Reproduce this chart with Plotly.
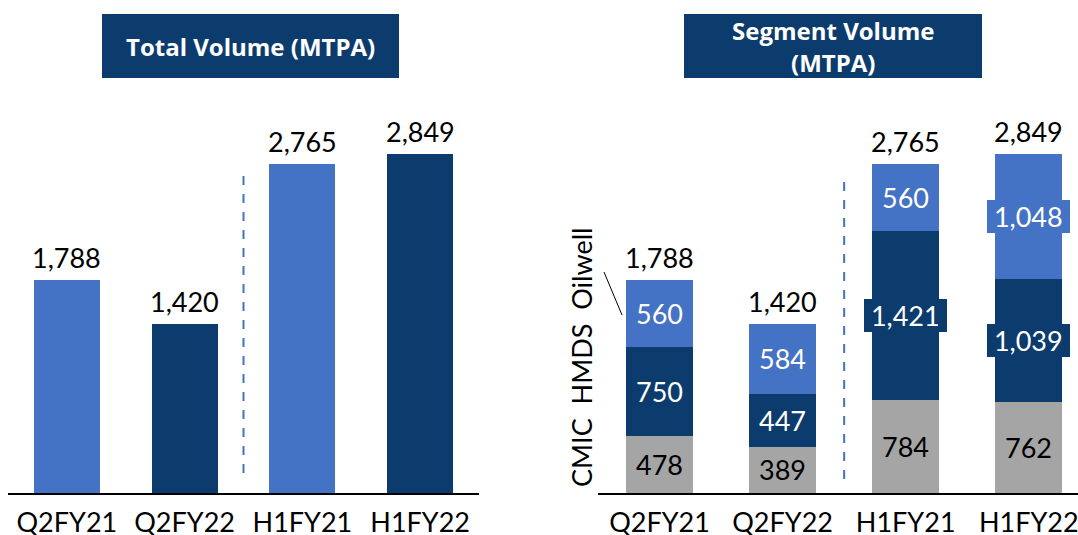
import plotly.graph_objects as go

categories = ["Q2FY21", "Q2FY22", "H1FY21", "H1FY22"]
total_volume = [1788, 1420, 2765, 2849]
cmic = [478, 389, 784, 762]
hmds = [750, 447, 1421, 1039]
oilwell = [560, 584, 560, 1048]

LIGHT = "#4472C4"
NAVY = "#0C3C6D"
GRAY = "#A5A5A5"
FONT = "Lato"
W, H = 1078, 535


def px(x):
    return x / W


def py(y):
    return 1 - y / H


fig = go.Figure()

fig.add_trace(go.Bar(
    x=categories, y=total_volume, xaxis="x", yaxis="y",
    marker=dict(color=[LIGHT, NAVY, LIGHT, NAVY], line=dict(width=0)),
    width=0.56, showlegend=False, hoverinfo="skip",
))

for name, vals, col in [("CMIC", cmic, GRAY), ("HMDS", hmds, NAVY), ("Oilwell", oilwell, LIGHT)]:
    fig.add_trace(go.Bar(
        x=categories, y=vals, name=name, xaxis="x2", yaxis="y2",
        marker=dict(color=col, line=dict(width=0)),
        width=0.545, showlegend=False, hoverinfo="skip",
    ))

annotations = []
for c, v in zip(categories, total_volume):
    annotations.append(dict(x=c, y=v, xref="x", yref="y", text=f"{v:,}", showarrow=False,
                            xanchor="center", yanchor="bottom", yshift=4,
                            font=dict(family=FONT, size=27, color="black")))
for c, a, b, d in zip(categories, cmic, hmds, oilwell):
    t = a + b + d
    annotations.append(dict(x=c, y=t, xref="x2", yref="y2", text=f"{t:,}", showarrow=False,
                            xanchor="center", yanchor="bottom", yshift=4,
                            font=dict(family=FONT, size=27, color="black")))
for i, c in enumerate(categories):
    base = 0
    for vals, col, fcol in [(cmic, GRAY, "black"), (hmds, NAVY, "white"), (oilwell, LIGHT, "white")]:
        v = vals[i]
        txt = f"{v:,}"
        if len(txt) > 3:
            txt = "\u00a0" + txt + "\u00a0"
        annotations.append(dict(x=c, y=base + v / 2, xref="x2", yref="y2", text=txt, showarrow=False,
                                xanchor="center", yanchor="middle", borderwidth=0,
                                font=dict(family=FONT, size=27, color=fcol), bgcolor=col, borderpad=0))
        base += v

title_font = dict(family="Open Sans", size=24, color="white")
annotations.append(dict(x=px(250), y=py(46), xref="paper", yref="paper", text="<b>Total Volume (MTPA)</b>",
                        xanchor="center", yanchor="middle", showarrow=False, font=title_font))
annotations.append(dict(x=px(833), y=py(30), xref="paper", yref="paper", text="<b>Segment Volume</b>",
                        xanchor="center", yanchor="middle", showarrow=False, font=title_font))
annotations.append(dict(x=px(833), y=py(62), xref="paper", yref="paper", text="<b>(MTPA)</b>",
                        xanchor="center", yanchor="middle", showarrow=False, font=title_font))
annotations.append(dict(x=px(581), y=py(358), xref="paper", yref="paper", text="CMIC  HMDS  Oilwell",
                        xanchor="center", yanchor="middle", textangle=-90, showarrow=False,
                        font=dict(family=FONT, size=27, color="black")))

shapes = [
    dict(type="rect", xref="paper", yref="paper", x0=px(102), x1=px(399), y0=py(78), y1=py(14),
         fillcolor=NAVY, line=dict(width=0), layer="below"),
    dict(type="rect", xref="paper", yref="paper", x0=px(684), x1=px(982), y0=py(78), y1=py(14),
         fillcolor=NAVY, line=dict(width=0), layer="below"),
    dict(type="line", xref="x", yref="paper", x0=1.5, x1=1.5, y0=py(473), y1=py(172),
         line=dict(color=LIGHT, width=2, dash="dash")),
    dict(type="line", xref="x2", yref="paper", x0=1.5, x1=1.5, y0=py(479), y1=py(179),
         line=dict(color=LIGHT, width=2, dash="dash")),
    dict(type="line", xref="paper", yref="paper", x0=px(604), x1=px(622), y0=py(272), y1=py(315),
         line=dict(color="black", width=1)),
]

axis_common = dict(showline=True, linecolor="black", linewidth=2, ticks="outside", ticklen=5,
                   tickcolor="rgba(0,0,0,0)", tickfont=dict(family=FONT, size=27, color="black"),
                   showgrid=False, zeroline=False, fixedrange=True, type="category", automargin=False)
yaxis_common = dict(visible=False, range=[0, 4143], domain=[42 / H, 1], showgrid=False, zeroline=False,
                    automargin=False)

fig.update_layout(
    width=W, height=H, margin=dict(l=0, r=0, t=0, b=0, autoexpand=False),
    paper_bgcolor="white", plot_bgcolor="white",
    barmode="stack",
    xaxis=dict(domain=[px(8), px(479)], range=[-0.5, 3.5], anchor="y", **axis_common),
    xaxis2=dict(domain=[px(598), 1], range=[-0.5, 3.40], anchor="y2", **axis_common),
    yaxis=dict(anchor="x", **yaxis_common),
    yaxis2=dict(anchor="x2", **yaxis_common),
    annotations=annotations, shapes=shapes,
)

fig.write_html("out.html", config={"displayModeBar": False},
               post_script="document.body.style.margin='0';")
